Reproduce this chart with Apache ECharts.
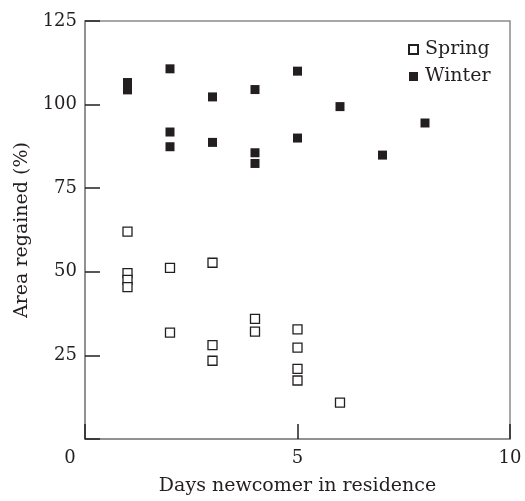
<!DOCTYPE html>
<html>
<head>
<meta charset="utf-8">
<script src="https://cdn.jsdelivr.net/npm/echarts@6/dist/echarts.min.js"></script>
<style>
  html, body { margin: 0; padding: 0; background: #fff; }
  #chart { width: 525px; height: 501px; }
</style>
</head>
<body>
<div id="chart"></div>
<script>
// days newcomer in residence
var springDays = [1, 1, 1, 1, 2, 2, 3, 3, 3, 4, 4, 5, 5, 5, 5, 6]
// area regained (%)
var springArea = [62, 49.6, 47.6, 45.4, 51.2, 31.8, 52.7, 28.1, 23.4, 35.9, 32.1, 32.8, 27.3, 21, 17.5, 10.9]

var winterDays = [1, 1, 2, 2, 2, 3, 3, 4, 4, 4, 5, 5, 6, 7, 8]
var winterArea = [106.6, 104.4, 110.7, 91.8, 87.4, 102.3, 88.7, 104.5, 85.6, 82.4, 110, 90, 99.4, 84.9, 94.5]

var xTicks = [0, 5, 10]
var yTicks = [0, 25, 50, 75, 100, 125]

function pairs(xs, ys) {
  return xs.map(function (x, i) { return [x, ys[i]] })
}

var ink = '#231f20'
var frame = '#8a8a8a'
var font = 'DejaVu Serif'

var chart = echarts.init(document.getElementById('chart'))
var option = {
  animation: false,
  textStyle: { fontFamily: font, color: ink },
  grid: {
    left: 85, right: 15, top: 21, bottom: 58,
    show: true, borderColor: frame, borderWidth: 1.5, backgroundColor: 'transparent'
  },
  legend: {
    orient: 'vertical',
    left: 403,
    top: 35,
    itemWidth: 9,
    itemHeight: 9,
    itemGap: 8,
    icon: 'rect',
    textStyle: { fontFamily: font, fontSize: 19, color: ink, padding: [0, 0, 0, 2] },
    data: ['Spring', 'Winter']
  },
  xAxis: {
    type: 'value',
    min: xTicks[0],
    max: xTicks[xTicks.length - 1],
    interval: 5,
    name: 'Days newcomer in residence',
    nameLocation: 'middle',
    nameGap: 38,
    nameTextStyle: { fontFamily: font, fontSize: 19, color: ink },
    axisLine: { show: true, lineStyle: { color: frame, width: 1.5 } },
    axisTick: { show: true, inside: true, length: 15, lineStyle: { color: ink, width: 1.5 } },
    splitLine: { show: false },
    axisLabel: {
      margin: 10,
      fontFamily: font,
      fontSize: 18,
      color: ink,
      formatter: function (v) { return v === 0 ? '{z|0}' : String(v) },
      rich: { z: { fontFamily: font, fontSize: 18, color: ink, padding: [0, 30, 0, 0] } }
    }
  },
  yAxis: {
    type: 'value',
    min: yTicks[0],
    max: yTicks[yTicks.length - 1],
    interval: 25,
    name: 'Area regained (%)',
    nameLocation: 'middle',
    nameGap: 52,
    nameTextStyle: { fontFamily: font, fontSize: 19, color: ink },
    axisLine: { show: true, lineStyle: { color: frame, width: 1.5 } },
    axisTick: { show: true, inside: true, length: 15, lineStyle: { color: ink, width: 1.5 } },
    splitLine: { show: false },
    axisLabel: {
      margin: 8,
      fontFamily: font,
      fontSize: 18,
      color: ink,
      formatter: function (v) { return v === 0 ? '' : String(v) }
    }
  },
  series: [
    {
      name: 'Spring',
      type: 'scatter',
      symbol: 'rect',
      symbolSize: 9,
      itemStyle: { color: '#fff', borderColor: ink, borderWidth: 1.3, opacity: 1 },
      data: pairs(springDays, springArea)
    },
    {
      name: 'Winter',
      type: 'scatter',
      symbol: 'rect',
      symbolSize: 9,
      itemStyle: { color: ink, opacity: 1 },
      data: pairs(winterDays, winterArea)
    }
  ]
}
chart.setOption(option)
window.addEventListener('resize', function () { chart.resize() })
</script>
</body>
</html>
